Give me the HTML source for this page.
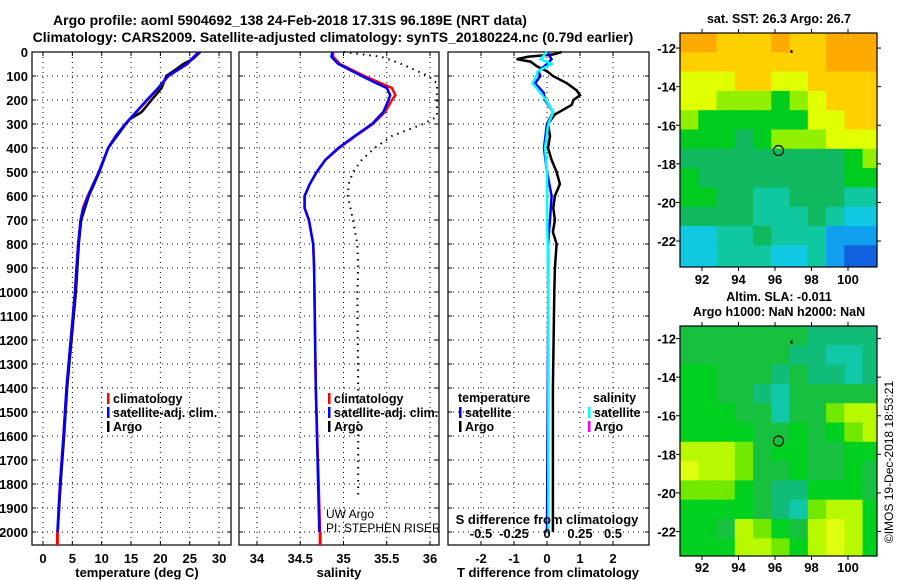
<!DOCTYPE html>
<html><head><meta charset="utf-8">
<style>
body{margin:0;background:#fff;}
svg{display:block;font-family:"Liberation Sans",Arial,sans-serif;}
.b{font-weight:bold;}
</style></head>
<body>
<svg id="c" width="900" height="580" viewBox="0 0 900 580" xmlns="http://www.w3.org/2000/svg">
<rect width="900" height="580" fill="#fff"/>
<text x="290" y="25" text-anchor="middle" class="b" font-size="14">Argo profile: aoml 5904692_138 24-Feb-2018 17.31S 96.189E (NRT data)</text>
<text x="333" y="42" text-anchor="middle" class="b" font-size="14">Climatology: CARS2009. Satellite-adjusted climatology: synTS_20180224.nc (0.79d earlier)</text>
<g id="g"></g>
</svg>
<script>
// ---- profile data ----
const tDepth = [0,50,100,150,200,300,350,400,500,600,650,700,800,900,1000,1400,1600,1800,2000];
const tClim  = [26.6,24.6,21.4,19.7,17.8,14.0,12.4,11.1,9.5,7.6,6.8,6.4,6.0,5.7,5.45,4.0,3.5,2.9,2.5];
const tSat   = [26.5,24.5,21.3,19.6,17.7,14.0,12.4,11.1,9.5,7.7,6.9,6.4,6.0,5.7,5.45,4.0,3.5,2.9,2.45];
const argoTDepth = [0,30,50,70,100,150,200,250,280,300,400,500,600,700,800,1000,1400,1600,1800,2000];
const argoT  = [26.8,25.5,23.9,22.8,21.0,20.2,18.5,16.8,14.8,14.1,11.1,9.6,7.8,6.5,6.1,5.6,4.1,3.6,3.0,2.5];
const sDepth = [0,20,50,100,130,150,180,200,250,300,350,400,450,500,550,600,650,700,800,900,1400,2000];
const sClim  = [34.88,34.88,34.96,35.24,35.43,35.56,35.60,35.56,35.48,35.34,35.14,34.95,34.79,34.69,34.61,34.55,34.55,34.60,34.65,34.66,34.68,34.73];
const sSat   = [34.87,34.86,34.94,35.21,35.38,35.50,35.54,35.52,35.46,35.33,35.13,34.94,34.79,34.69,34.61,34.55,34.55,34.60,34.65,34.66,34.68,34.72];
const dotDepth = [0,20,50,100,130,150,270,300,350,400,450,500,550,600,700,800,900,1000,1400,1850];
const dotS   = [35.0,35.44,35.67,35.98,36.08,36.08,36.08,35.92,35.56,35.36,35.21,35.11,35.06,35.05,35.11,35.16,35.17,35.16,35.17,35.17];
const dDepth = [0,10,20,30,40,60,80,100,130,160,180,200,220,240,260,300,350,400,450,500,550,600,650,700,750,800,900,1000,1400,2000];
const dTArgo = [0.44,0.2,-0.58,-0.92,-0.5,-0.3,0,0.18,0.6,0.9,1.0,0.8,0.75,0.5,0.24,0.03,0.09,0.03,0.14,0.29,0.39,0.24,0.19,0.24,0.18,0.29,0.24,0.22,0.18,0.18];
const sdDepth = [0,30,50,80,100,130,170,200,250,300,400,500,600,700,800,1000,2000];
const dTSat  = [0,0.14,0,-0.26,-0.2,-0.36,-0.1,-0.06,0.19,0,-0.09,0,0.14,0.09,0.03,0.04,0.0];
const dSSat  = [0,-0.05,0.035,-0.07,-0.08,-0.11,-0.05,-0.008,0.048,0.01,-0.015,0,0.0,0.0,0.005,0.01,0.01];
const depthTicks = [0,100,200,300,400,500,600,700,800,900,1000,1100,1200,1300,1400,1500,1600,1700,1800,1900,2000];
const tTicks = [0,5,10,15,20,25,30];
const sTicks = [34,34.5,35,35.5,36];
const dTTicks = [-2,-1,0,1,2];
const dSTicks = [-0.5,-0.25,0,0.25,0.5];
// ---- map data (1 deg cells, lon from 90.8, lat from -11.2 southward) ----
const sstGrid = [
[9,9,8,8,8,9,8,8,9,9,9],[8,8,8,8,8,8,8,8,9,9,9],[7,7,7,8,8,7,7,8,8,8,8],[7,7,6,6,6,5,6,7,8,8,8],
[6,5,5,5,5,5,5,7,7,8,8],[5,5,5,4,5,6,6,6,7,7,7],[4,4,4,4,4,4,4,4,4,5,6],[5,4,4,4,4,4,4,4,4,5,5],
[5,5,4,4,3,3,4,4,4,3,3],[4,4,4,4,3,3,3,4,3,2,2],[2,2,3,3,4,3,3,3,1,1,1],[2,2,3,3,3,2,2,3,1,0,0]];
const slaGrid = [
[2,2,2,2,2,2,2,1,1,1,1],[2,2,2,2,2,2,1,1,0,0,1],[3,3,2,2,2,1,2,1,1,0,1],[3,3,2,2,1,0,2,2,2,2,2],
[3,3,3,2,2,0,2,2,4,5,5],[3,3,3,3,2,2,3,2,3,4,5],[5,5,5,4,2,3,3,2,2,3,3],[6,5,5,4,2,2,3,2,2,3,2],
[4,4,4,3,2,1,1,3,3,3,2],[3,3,3,3,2,1,0,4,5,5,3],[3,3,2,5,4,3,2,5,6,5,3],[3,3,3,5,5,4,3,5,6,5,3]];
const lonTicks = [92,94,96,98,100];
const latTicks = [-12,-14,-16,-18,-20,-22];
const argoLon = 96.19, argoLat = -17.31;

const sstColors = ['#1060e0','#10a0f0','#10c8e0','#10c8a0','#10b860','#00cc20','#90f000','#e0ff00','#ffd000','#ffaa00'];
const slaColors = ['#10c8a8','#10bc78','#18c040','#00d020','#70e800','#b8f800','#e0ff10'];

const NS='http://www.w3.org/2000/svg';
const G=document.getElementById('g');
function mk(tag,at,parent){const e=document.createElementNS(NS,tag);for(const k in at)e.setAttribute(k,at[k]);(parent||G).appendChild(e);return e;}
function txt(x,y,s,at){const e=mk('text',Object.assign({x:x,y:y},at||{}));e.textContent=s;return e;}

const yD = d => 52 + 0.24*d;
const xT = t => 43 + 5.87*t;
const xS = s => 257 + 86.5*(s-34);
const xDT = v => 547 + 33*v;
const xDS = v => 547 + 132*v;
const pTop=52,pBot=545;

function panel(x0,x1,name,xticks,xfn,labels,ylabels){
  const g=mk('g',{});
  
  
  depthTicks.forEach(d=>{
    const y=yD(d);
    mk('line',{x1:x0,x2:x1,y1:y,y2:y,stroke:'#000','stroke-dasharray':'1,4','stroke-width':1},g);
    mk('line',{x1:x0,x2:x0+4,y1:y,y2:y,stroke:'#000'},g);
    mk('line',{x1:x1-4,x2:x1,y1:y,y2:y,stroke:'#000'},g);
    if(ylabels){const t=txt(28,y+5,String(d),{'text-anchor':'end','font-size':13,class:'b'});
      }
  });
  xticks.forEach((v,i)=>{
    const x=xfn(v);
    mk('line',{x1:x,x2:x,y1:pTop,y2:pBot,stroke:'#000','stroke-dasharray':'1,4'},g);
    mk('line',{x1:x,x2:x,y1:pBot,y2:pBot-4,stroke:'#000'},g);
    mk('line',{x1:x,x2:x,y1:pTop,y2:pTop+4,stroke:'#000'},g);
    const t=txt(x,563,labels[i],{'text-anchor':'middle','font-size':13,class:'b'});
    
  });
  mk('rect',{x:x0,y:pTop,width:x1-x0,height:pBot-pTop,fill:'none',stroke:'#000','stroke-width':1.2},g);
  return g;
}
function line(xs,ds,xfn,color,w,dash,name){
  const pts=xs.map((v,i)=>xfn(v).toFixed(1)+','+yD(ds[i]).toFixed(1)).join(' ');
  const p=mk('polyline',{points:pts,fill:'none',stroke:color,'stroke-width':w});
  if(dash)p.setAttribute('stroke-dasharray',dash);
  
  
}
function legend(x,y,color,label,name){
  mk('rect',{x:x,y:y-10,width:2.5,height:11,fill:color});
  const t=txt(x+6,y,label,{'font-size':12.5,class:'b'});
  
  
}

// Panel 1 temperature
panel(32,231,'temperature-panel',tTicks,xT,tTicks.map(String),true);
line(argoT,argoTDepth,xT,'#000',2.5,null,'argo-temperature-line');
line(tClim,tDepth,xT,'#f00',2.5,null,'climatology-temperature-line');
line(tSat,tDepth,xT,'#00f',2.5,null,'satellite-temperature-line');
mk('line',{x1:xT(2.45),x2:xT(2.45),y1:yD(2000),y2:pBot,stroke:'#f00','stroke-width':3});
let t=txt(137,577,'temperature (deg C)',{'text-anchor':'middle','font-size':13,class:'b'});

legend(107,403,'#f00','climatology','legend-climatology');
legend(107,417,'#00f','satellite-adj. clim.','legend-satellite-adj');
legend(107,431,'#000','Argo','legend-argo');

// Panel 2 salinity
panel(239,439,'salinity-panel',sTicks,xS,['34','34.5','35','35.5','36'],false);
line(dotS,dotDepth,xS,'#000',2,'1.5,5','neighbour-salinity-dotted');
line(sClim,sDepth,xS,'#f00',2.5,null,'climatology-salinity-line');
line(sSat,sDepth,xS,'#00f',2.5,null,'satellite-salinity-line');
mk('line',{x1:xS(34.73),x2:xS(34.73),y1:yD(2000),y2:pBot,stroke:'#f00','stroke-width':3});
t=txt(339,577,'salinity',{'text-anchor':'middle','font-size':13,class:'b'});

legend(328,403,'#f00','climatology','legend-climatology-s');
legend(328,417,'#00f','satellite-adj. clim.','legend-satellite-adj-s');
legend(328,431,'#000','Argo','legend-argo-s');
t=txt(326,518,'UW Argo',{'font-size':12});
t=txt(326,532,'PI: STEPHEN RISER',{'font-size':12});

// Panel 3 differences
panel(448,649,'difference-panel',dTTicks,xDT,['-2','-1','0','1','2'],false);
line(dTArgo,dDepth,xDT,'#000',2.5,null,'argo-t-difference-line');
line(dTSat,sdDepth,xDT,'#00f',2.5,null,'satellite-t-difference-line');
line(dSSat,sdDepth,xDS,'#0ff',2.5,null,'satellite-s-difference-line');
t=txt(548,577,'T difference from climatology',{'text-anchor':'middle','font-size':13,class:'b'});

t=txt(547,524,'S difference from climatology',{'text-anchor':'middle','font-size':13,class:'b'});

dSTicks.forEach((v,i)=>{const tt=txt(xDS(v),538,['-0.5','-0.25','0','0.25','0.5'][i],{'text-anchor':'middle','font-size':13,class:'b'});
  });
t=txt(458,402,'temperature',{'font-size':12.5,class:'b'});
legend(459,417,'#00f','satellite','legend-t-satellite');
legend(459,431,'#000','Argo','legend-t-argo');
t=txt(593,402,'salinity',{'font-size':12.5,class:'b'});
legend(588,417,'#0ff','satellite','legend-s-satellite');
legend(588,431,'#f0f','Argo','legend-s-argo');

// Maps
function map(y0,y1,latTop,grid,colors,name,titles,labelY){
  const x0=680,x1=877;
  const lonL=90.8;
  const xL=lon=>702+(lon-92)*18.25;
  const yL=lat=>y0+(latTop-lat)*19.3;
  const g=mk('g',{});
  
  
  grid.forEach((row,r)=>row.forEach((v,c)=>{
    const xa=xL(lonL+c), xb=Math.min(x1,xL(lonL+c+1));
    const ya=yL(latTop-r), yb=(r==grid.length-1)?y1:yL(latTop-r-1);
    const cell=mk('rect',{x:xa.toFixed(1),y:ya.toFixed(1),width:(xb-xa+0.5).toFixed(1),height:(yb-ya+0.5).toFixed(1),fill:colors[v]},g);
    
    
  }));
  mk('rect',{x:x0,y:y0,width:x1-x0,height:y1-y0,fill:'none',stroke:'#000','stroke-width':1.2},g);
  lonTicks.forEach(l=>{const x=xL(l);
    mk('line',{x1:x,x2:x,y1:y0,y2:y0-4,stroke:'#000'},g);
    mk('line',{x1:x,x2:x,y1:y1,y2:y1+4,stroke:'#000'},g);
    const tt=txt(x,labelY,String(l),{'text-anchor':'middle','font-size':13,class:'b'});
    });
  latTicks.forEach(l=>{const y=yL(l);
    mk('line',{x1:x0,x2:x0-4,y1:y,y2:y,stroke:'#000'},g);
    mk('line',{x1:x1,x2:x1+4,y1:y,y2:y,stroke:'#000'},g);
    const tt=txt(676,y+5,String(l),{'text-anchor':'end','font-size':13,class:'b'});
    });
  const m=mk('circle',{cx:xL(argoLon),cy:yL(argoLat),r:5,fill:'none',stroke:'#000','stroke-width':1.2},g);
  
  mk('rect',{x:xL(96.85),y:yL(-12.1),width:2,height:3,fill:'#000'},g);
  titles.forEach((s,i)=>{const tt=txt(779,y0-(titles.length-i)*15+5,s,{'text-anchor':'middle','font-size':12.5,class:'b'});
    });
}
map(33,267,-11.22,sstGrid,sstColors,'sst-map',['sat. SST: 26.3 Argo: 26.7'],284);
map(326,556,-11.35,slaGrid,slaColors,'sla-map',['Altim. SLA: -0.011','Argo h1000: NaN h2000: NaN'],572);
t=txt(0,0,'©IMOS 19-Dec-2018 18:53:21',{'font-size':12,transform:'translate(893,462) rotate(-90)','text-anchor':'middle'});

</script>
</body></html>
